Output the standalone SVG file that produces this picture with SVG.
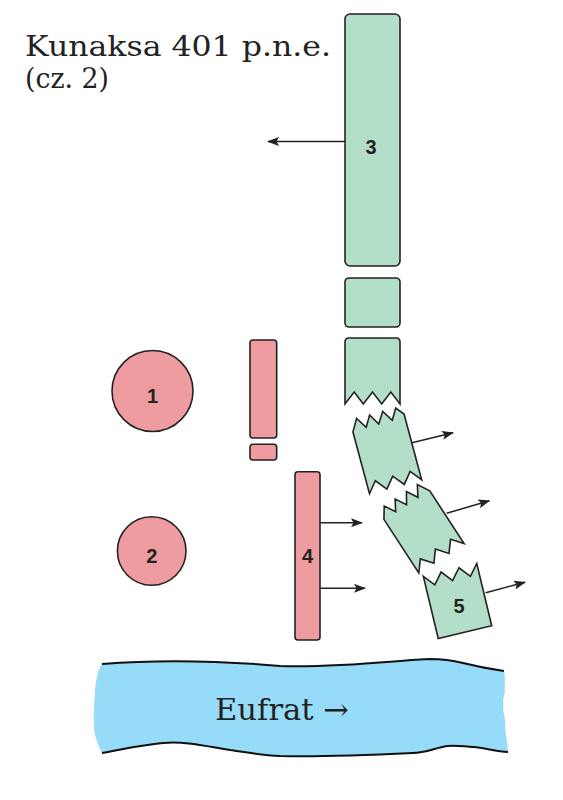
<svg xmlns="http://www.w3.org/2000/svg" width="563" height="800" viewBox="0 0 563 800">
<defs>
<style>
.g{fill:#b3dec8;stroke:#222;stroke-width:1.6;stroke-linejoin:miter}
.p{fill:#ef9ca0;stroke:#222;stroke-width:1.6}
.lbl{font-family:"Liberation Sans",Arial,sans-serif;font-weight:bold;font-size:20px;fill:#222;text-anchor:middle}
.ttl{font-family:"DejaVu Serif","Liberation Serif",serif;font-size:27px;fill:#222}
.arr{stroke:#222;stroke-width:1.5;fill:none;marker-end:url(#ah)}
.bank{fill:none;stroke:#111;stroke-width:2}
</style>
<marker id="ah" viewBox="0 0 12 9" refX="11" refY="4.5" markerWidth="12" markerHeight="9" markerUnits="userSpaceOnUse" orient="auto">
<path d="M0,0 L12,4.5 L0,9 L2.5,4.5 Z" fill="#222"/>
</marker>
</defs>
<rect width="563" height="800" fill="#fff"/>

<g id="title">
<text class="ttl" x="25" y="56" textLength="306" lengthAdjust="spacingAndGlyphs">Kunaksa 401 p.n.e.</text>
<text class="ttl" x="25" y="88" textLength="84" lengthAdjust="spacingAndGlyphs">(cz. 2)</text>
</g>

<g id="river">
<path d="M102,664 C140,661 200,659 280,666 C340,668 400,660 430,659 C445,659 455,661 463,663 C475,666 490,669 504,671 C506,680 504,688 505,692 C502,700 504,705 503,710 C506,720 505,728 506,735 C507,742 508,748 508,752 C495,751 485,748 473,747 C460,746 455,745 447,746 C435,748 425,753 413,753 C370,755 320,757 280,756 C260,755 245,752 230,750 C205,746 185,741 163,743 C140,745 120,750 102,753 C98,745 94,735 94,725 C93,712 95,700 95,690 C96,680 98,670 102,664 Z" fill="#96dbf8"/>
<path class="bank" d="M102,664 C140,661 200,659 280,666 C340,668 400,660 430,659 C445,659 455,661 463,663 C475,666 490,669 504,671"/>
<path class="bank" d="M508,752 C495,751 485,748 473,747 C460,746 455,745 447,746 C435,748 425,753 413,753 C370,755 320,757 280,756 C260,755 245,752 230,750 C205,746 185,741 163,743 C140,745 120,750 102,753"/>
<text x="215" y="720" font-family="DejaVu Serif,Liberation Serif,serif" font-size="30" fill="#222" textLength="134" lengthAdjust="spacingAndGlyphs">Eufrat →</text>
</g>

<g id="n1">
<circle class="p" cx="152.5" cy="391" r="40.5"/>
<text class="lbl" x="152.5" y="403">1</text>
</g>
<g id="n2">
<circle class="p" cx="151.7" cy="551" r="34.3"/>
<text class="lbl" x="151.7" y="563">2</text>
</g>
<g id="bar1">
<rect class="p" x="250" y="340" width="26.7" height="98" rx="3"/>
<rect class="p" x="250" y="444.3" width="26.7" height="15.7" rx="3"/>
</g>
<g id="n4">
<rect class="p" x="295" y="471.7" width="25" height="168.3" rx="3"/>
<text class="lbl" x="307.5" y="563">4</text>
</g>

<g id="n3">
<rect class="g" x="345" y="14" width="55" height="252" rx="5"/>
<text class="lbl" x="371" y="154">3</text>
</g>
<g id="blockB">
<rect class="g" x="345" y="278" width="55" height="49" rx="4"/>
</g>
<g id="blockC">
<path class="g" d="M345,404 L345,342 Q345,338 349,338 L396,338 Q400,338 400,342 L400,404 L390.8,392 L381.7,404 L372.5,392 L363.3,404 L354.2,392 Z"/>
</g>
<g id="blockD" transform="translate(386,451) rotate(-15)">
<polygon class="g" points="-27,-27 -20,-39 -13,-28 -6.5,-39 0,-28 7,-39 14,-28 20.5,-39 27,-31 27,37 18,26 9,37 0,26 -9,37 -18,26 -27,37"/>
</g>
<g id="blockE" transform="translate(424,531.5) rotate(-33)">
<polygon class="g" points="-27,-32 -19.5,-43 -13,-32 -6.5,-43 0,-32 7,-43 13.5,-32 20,-43 27,-31 27,32 18,21 9,32 0,21 -9,32 -18,21 -27,32"/>
</g>
<g id="n5">
<polygon class="g" transform="translate(457.5,601) rotate(-13.5)" points="-27.5,-32 -18.3,-21 -9.2,-32 0,-21 9.2,-32 18.3,-21 27.5,-32 27.5,32 -27.5,32"/>
<text class="lbl" x="459" y="613">5</text>
</g>

<g id="connectors">
<line class="arr" x1="345" y1="141.5" x2="268" y2="141.5"/>
<line class="arr" x1="320" y1="522.7" x2="362" y2="522.7"/>
<line class="arr" x1="320" y1="588.3" x2="365" y2="588.3"/>
<line class="arr" x1="412" y1="442.7" x2="453" y2="432.7"/>
<line class="arr" x1="446.7" y1="513.3" x2="489.3" y2="500.7"/>
<line class="arr" x1="485.7" y1="592.7" x2="525" y2="582.3"/>
</g>
</svg>
